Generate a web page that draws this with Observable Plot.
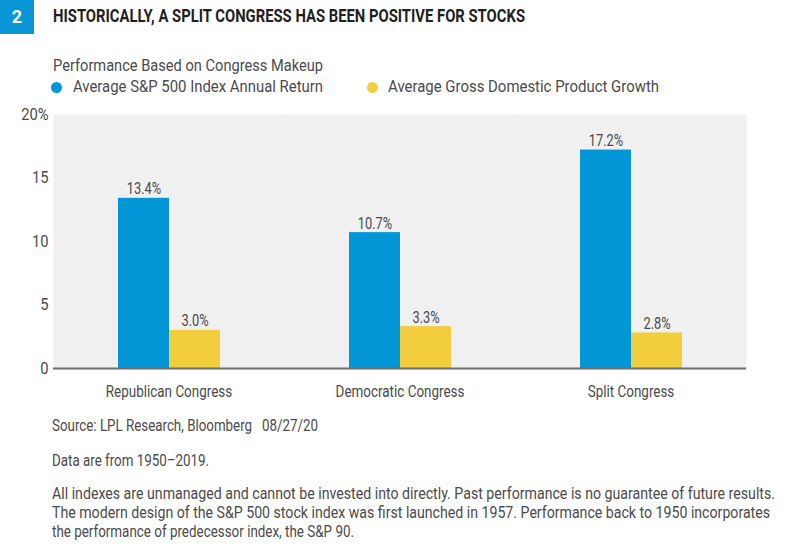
<!DOCTYPE html>
<html>
<head>
<meta charset="utf-8">
<script src="https://cdn.jsdelivr.net/npm/d3@7"></script>
<script src="https://cdn.jsdelivr.net/npm/@observablehq/plot@0.6"></script>
<style>
  html, body { margin: 0; padding: 0; background: #fff; }
  body { width: 789px; height: 553px; position: relative; overflow: hidden;
         font-family: Roboto, sans-serif; color: #4a4a4c; }
  .abs { position: absolute; white-space: nowrap; }
  .fit { display: inline-block; transform-origin: 0 50%; white-space: nowrap; }
  #badge { left: 0; top: 0; width: 34px; height: 34px; background: #0a96d4; color: #fff;
           font-weight: bold; font-size: 18px; line-height: 34px; text-align: center; }
  #title { left: 53px; top: 6px; font-size: 17.5px; font-weight: bold; color: #231f20; line-height: 20px; }
  #subtitle { left: 53px; top: 56px; font-size: 16px; line-height: 20px; }
  #legend { left: 50px; top: 77px; font-size: 16px; line-height: 20px; }
  .li { position: absolute; top: 0; white-space: nowrap; }
  .dot { position: absolute; top: 5px; width: 11px; height: 11px; border-radius: 50%; }
  .lt { position: absolute; top: 0; }
  #chart { left: 0; top: 100px; }
  .foot { left: 52px; font-size: 16px; line-height: 19px; }
</style>
</head>
<body>
<div id="badge" class="abs">2</div>
<div id="title" class="abs"><span class="fit" data-w="472">HISTORICALLY, A SPLIT CONGRESS HAS BEEN POSITIVE FOR STOCKS</span></div>
<div id="subtitle" class="abs"><span class="fit" data-w="270">Performance Based on Congress Makeup</span></div>
<div id="legend" class="abs"></div>
<div id="chart" class="abs"></div>
<div class="abs foot" style="top:416px"><span class="fit" data-w="266">Source: LPL Research, Bloomberg&nbsp;&nbsp;&nbsp;08/27/20</span></div>
<div class="abs foot" style="top:451px"><span class="fit" data-w="157">Data are from 1950–2019.</span></div>
<div class="abs foot" style="top:484px"><span class="fit" data-w="723">All indexes are unmanaged and cannot be invested into directly. Past performance is no guarantee of future results.</span></div>
<div class="abs foot" style="top:503px"><span class="fit" data-w="718">The modern design of the S&amp;P 500 stock index was first launched in 1957. Performance back to 1950 incorporates</span></div>
<div class="abs foot" style="top:522px"><span class="fit" data-w="302">the performance of predecessor index, the S&amp;P 90.</span></div>
<script>
const groups = ["Republican Congress", "Democratic Congress", "Split Congress"];
const seriesNames = ["Average S&P 500 Index Annual Return", "Average Gross Domestic Product Growth"];
const sp500Return = [13.4, 10.7, 17.2];
const gdpGrowth = [3.0, 3.3, 2.8];
const yTicks = [0, 5, 10, 15, 20];
const colors = ["#0396d6", "#f2cd3e"];

const data = groups.flatMap((g, i) => [
  {group: g, series: seriesNames[0], value: sp500Return[i]},
  {group: g, series: seriesNames[1], value: gdpGrowth[i]}
]);

const legend = document.getElementById("legend");
const legendX = [0, 316];
const legendW = [250, 271];
seriesNames.forEach((s, i) => {
  const d = document.createElement("div");
  d.className = "li";
  d.style.left = legendX[i] + "px";
  const dot = document.createElement("span");
  dot.className = "dot";
  dot.style.left = "1px";
  dot.style.background = colors[i];
  const t = document.createElement("span");
  t.className = "lt fit";
  t.style.left = (i === 0 ? 23 : 22) + "px";
  t.dataset.w = legendW[i];
  t.textContent = s;
  d.appendChild(dot);
  d.appendChild(t);
  legend.appendChild(d);
});

const chart = Plot.plot({
  width: 789,
  height: 308,
  marginLeft: 52,
  marginRight: 42,
  marginTop: 14,
  marginBottom: 40,
  style: {fontFamily: 'Roboto, sans-serif', fontSize: "16px", color: "#4a4a4c", background: "transparent"},
  fx: {domain: groups, padding: 0, label: null, tickSize: 0, tickPadding: 17},
  x: {domain: seriesNames, paddingInner: 0, paddingOuter: 1.23, axis: null},
  y: {domain: [0, 20], ticks: yTicks, tickFormat: d => d === 20 ? "20%" : String(d), label: null, tickSize: 0, tickPadding: 5},
  color: {domain: seriesNames, range: colors},
  marks: [
    Plot.frame({fill: "#f0f0f0", stroke: null}),
    Plot.barY(data, {fx: "group", x: "series", y: "value", fill: "series"}),
    Plot.text(data, {fx: "group", x: "series", y: "value", text: d => d.value.toFixed(1) + "%", dy: -4, lineAnchor: "bottom", fill: "#4a4a4c", fontSize: 16}),
    Plot.ruleY([0], {stroke: "#6d6e71", strokeWidth: 2})
  ]
});
document.getElementById("chart").appendChild(chart);

function fitAll() {
  document.querySelectorAll(".fit").forEach(el => {
    el.style.transform = "none";
    const w = el.getBoundingClientRect().width;
    const target = +el.dataset.w;
    if (w > 0) el.style.transform = `scaleX(${target / w})`;
  });
  const condense = (sel, f) => chart.querySelectorAll(sel).forEach(t => {
    t.removeAttribute("textLength");
    const len = t.getComputedTextLength();
    if (len > 0) {
      t.setAttribute("textLength", (len * f).toFixed(2));
      t.setAttribute("lengthAdjust", "spacingAndGlyphs");
    }
  });
  condense('g[aria-label="fx-axis tick label"] text', 0.84);
  condense('g[aria-label="text"] text', 0.8);
  condense('g[aria-label="y-axis tick label"] text', 0.92);
}
fitAll();
if (document.fonts && document.fonts.ready) document.fonts.ready.then(fitAll);
</script>
</body>
</html>
